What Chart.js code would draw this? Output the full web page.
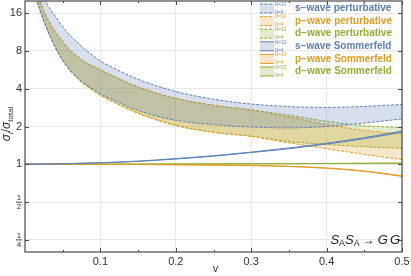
<!DOCTYPE html>
<html>
<head>
<meta charset="utf-8">
<script src="https://cdn.jsdelivr.net/npm/chart.js@4"></script>
<style>
  html, body { margin: 0; padding: 0; background: #fff; }
</style>
</head>
<body>
<canvas id="chart" width="411" height="276"></canvas>
<script>
// velocity grid for the perturbative curves
const vPert = [0.01, 0.015, 0.02, 0.025, 0.03, 0.04, 0.05, 0.06, 0.07, 0.08, 0.1, 0.12, 0.15, 0.2, 0.25, 0.3, 0.35, 0.4, 0.45, 0.5];
const sPertN13 = [50, 34, 26, 21.5, 18.5, 15.2, 12.5, 10.6, 9.3, 8.2, 6.65, 5.75, 4.75, 3.8, 3.3, 3.02, 2.88, 2.84, 2.89, 3.0];
const sPertN4 = [32, 21, 16.8, 13.8, 11.6, 8.6, 6.75, 5.6, 4.85, 4.35, 3.65, 3.2, 2.68, 2.24, 2.07, 1.98, 1.95, 2.0, 2.13, 2.3];
const pPertN13 = [38, 26, 20, 16.5, 14.4, 11.4, 9.5, 8.1, 7.2, 6.5, 5.65, 4.95, 4.12, 3.35, 2.95, 2.7, 2.38, 2.07, 1.86, 1.74];
const pPertN4 = [32, 21, 16.8, 13.8, 11.6, 8.55, 6.7, 5.55, 4.8, 4.28, 3.55, 3.08, 2.55, 2.04, 1.8, 1.67, 1.48, 1.33, 1.2, 1.09];
const dPertN13 = [38, 26, 20, 16.5, 14.4, 11.4, 9.5, 8.1, 7.2, 6.5, 5.65, 4.95, 4.12, 3.35, 2.95, 2.71, 2.46, 2.2, 2.03, 1.96];
const dPertN4 = [32, 21, 16.8, 13.8, 11.6, 8.55, 6.7, 5.55, 4.8, 4.28, 3.55, 3.08, 2.55, 2.04, 1.8, 1.67, 1.52, 1.44, 1.38, 1.34];

// velocity grid for the Sommerfeld curves
const vSomm = [0, 0.05, 0.1, 0.15, 0.2, 0.25, 0.3, 0.35, 0.4, 0.45, 0.5];
const sSommN13 = [1.0, 1.01, 1.03, 1.06, 1.11, 1.17, 1.25, 1.35, 1.47, 1.63, 1.84];
const sSommN4 = [1.0, 1.01, 1.025, 1.055, 1.1, 1.16, 1.24, 1.33, 1.45, 1.6, 1.8];
const pSommN13 = [1.0, 1.0, 0.999, 0.997, 0.993, 0.988, 0.98, 0.965, 0.935, 0.885, 0.81];
const pSommN4 = [1.0, 1.0, 0.998, 0.995, 0.99, 0.984, 0.975, 0.96, 0.928, 0.878, 0.8];
const dSommN13 = [1.0, 1.0, 1.002, 1.004, 1.006, 1.008, 1.01, 1.013, 1.016, 1.019, 1.022];
const dSommN4 = [1.0, 1.0, 1.001, 1.003, 1.005, 1.007, 1.009, 1.011, 1.014, 1.017, 1.02];

const xTickValues = [0.1, 0.2, 0.3, 0.4, 0.5];
const xTickLabels = ["0.1", "0.2", "0.3", "0.4", "0.5"];
const xMinorTicks = [0.05, 0.15, 0.25, 0.35, 0.45];
const yTickValues = [0.25, 0.5, 1, 2, 4, 8, 16];
const yTickLabels = ["1/4", "1/2", "1", "2", "4", "8", "16"];

const legendLabels = [
	"s\u2212wave perturbative",
	"p\u2212wave perturbative",
	"d\u2212wave perturbative",
	"s\u2212wave Sommerfeld",
	"p\u2212wave Sommerfeld",
	"d\u2212wave Sommerfeld",
];

const BLUE = "#5e81b5";
const ORANGE = "#e19c24";
const GREEN = "#8fb032";
const FONT = "'Liberation Sans', Arial, sans-serif";

const toPoints = (xs, ys) => xs.map((x, i) => ({ x: x, y: ys[i] }));
const fade = (hex, a) => {
	const n = parseInt(hex.slice(1), 16);
	return `rgba(${(n >> 16) & 255}, ${(n >> 8) & 255}, ${n & 255}, ${a})`;
};

function band(xs, upper, lower, color, dash) {
	const common = {
		borderColor: color,
		borderWidth: 1,
		borderDash: dash,
		pointRadius: 0,
		cubicInterpolationMode: "monotone",
	};
	return [
		{ ...common, data: toPoints(xs, upper), backgroundColor: fade(color, 0.25), fill: "+1" },
		{ ...common, data: toPoints(xs, lower), fill: false },
	];
}

const datasets = [
	...band(vSomm, sSommN13, sSommN4, BLUE, []),
	...band(vSomm, pSommN13, pSommN4, ORANGE, []),
	...band(vSomm, dSommN13, dSommN4, GREEN, []),
	...band(vPert, sPertN13, sPertN4, BLUE, [3, 1.5]),
	...band(vPert, pPertN13, pPertN4, ORANGE, [3, 1.5]),
	...band(vPert, dPertN13, dPertN4, GREEN, [3, 1.5]),
];

// draws several font runs one after another, returns total width
function runs(ctx, parts, x, y, measureOnly) {
	let w = 0;
	parts.forEach((p) => {
		ctx.font = p.font;
		if (!measureOnly) ctx.fillText(p.text, x + w, y + (p.dy || 0));
		w += ctx.measureText(p.text).width + (p.gap || 0);
	});
	return w;
}

const decorations = {
	id: "decorations",
	afterDraw(chart) {
		const { ctx, chartArea: a } = chart;
		const x = chart.scales.x;
		const y = chart.scales.y;
		ctx.save();

		// frame
		ctx.strokeStyle = "#4a4a4a";
		ctx.lineWidth = 1.2;
		ctx.strokeRect(a.left, a.top, a.right - a.left, a.bottom - a.top);

		// inward ticks
		ctx.lineWidth = 1;
		ctx.beginPath();
		xTickValues.forEach((v) => {
			const px = Math.round(x.getPixelForValue(v)) + 0.5;
			ctx.moveTo(px, a.bottom); ctx.lineTo(px, a.bottom - 4);
			ctx.moveTo(px, a.top); ctx.lineTo(px, a.top + 4);
		});
		xMinorTicks.forEach((v) => {
			const px = Math.round(x.getPixelForValue(v)) + 0.5;
			ctx.moveTo(px, a.bottom); ctx.lineTo(px, a.bottom - 2);
			ctx.moveTo(px, a.top); ctx.lineTo(px, a.top + 2);
		});
		yTickValues.forEach((v) => {
			const py = Math.round(y.getPixelForValue(v)) + 0.5;
			ctx.moveTo(a.left, py); ctx.lineTo(a.left + 4, py);
			ctx.moveTo(a.right, py); ctx.lineTo(a.right - 4, py);
		});
		ctx.stroke();

		// tick labels
		ctx.fillStyle = "#333";
		ctx.font = `11px ${FONT}`;
		ctx.textAlign = "center";
		ctx.textBaseline = "middle";
		xTickValues.forEach((v, i) => {
			ctx.fillText(xTickLabels[i], x.getPixelForValue(v), a.bottom + 10);
		});
		yTickValues.forEach((v, i) => {
			const py = y.getPixelForValue(v);
			const label = yTickLabels[i];
			if (label.includes("/")) {
				const [num, den] = label.split("/");
				ctx.font = `8px ${FONT}`;
				ctx.textAlign = "center";
				ctx.fillText(num, 19, py - 4.5);
				ctx.fillText(den, 19, py + 5);
				ctx.fillRect(16, py - 0.4, 6, 0.9);
			} else {
				ctx.font = `11px ${FONT}`;
				ctx.textAlign = "right";
				ctx.fillText(label, 22, py);
			}
		});

		// axis titles
		ctx.textAlign = "center";
		ctx.font = `11px ${FONT}`;
		ctx.fillText("v", (a.left + a.right) / 2 + 2, a.bottom + 17);

		ctx.textAlign = "left";
		ctx.textBaseline = "alphabetic";
		const yTitle = [
			{ text: "\u03c3", font: `italic 12px ${FONT}` },
			{ text: "i", font: `italic 8px ${FONT}`, dy: 3 },
			{ text: "/", font: `12px ${FONT}` },
			{ text: "\u03c3", font: `italic 12px ${FONT}` },
			{ text: "total", font: `8px ${FONT}`, dy: 3 },
		];
		const tw = runs(ctx, yTitle, 0, 0, true);
		ctx.save();
		ctx.translate(10, 124);
		ctx.rotate(-Math.PI / 2);
		runs(ctx, yTitle, -tw / 2, 0, false);
		ctx.restore();

		// process label
		const proc = [
			{ text: "S", font: `italic 13px ${FONT}` },
			{ text: "A", font: `9px ${FONT}`, dy: 2 },
			{ text: "S", font: `italic 13px ${FONT}` },
			{ text: "A", font: `9px ${FONT}`, dy: 2, gap: 3 },
			{ text: "\u2192", font: `12px ${FONT}`, gap: 3 },
			{ text: "G", font: `italic 13px ${FONT}`, gap: 2 },
			{ text: "G", font: `italic 13px ${FONT}` },
		];
		ctx.fillStyle = "#222";
		const pw = runs(ctx, proc, 0, 0, true);
		runs(ctx, proc, a.right - 2 - pw, a.bottom - 8, false);

		// legend
		const colors = [BLUE, ORANGE, GREEN, BLUE, ORANGE, GREEN];
		legendLabels.forEach((label, i) => {
			const cy = 8.5 + i * 12.6;
			const c = colors[i];
			const sx = 260, ex = 274;
			ctx.fillStyle = fade(c, 0.25);
			ctx.fillRect(sx, cy - 4.5, ex - sx, 9);
			ctx.strokeStyle = c;
			ctx.lineWidth = 1;
			ctx.setLineDash(i < 3 ? [3, 1.5] : []);
			ctx.beginPath();
			ctx.moveTo(sx, cy - 4.5); ctx.lineTo(ex, cy - 4.5);
			ctx.moveTo(sx, cy + 4.5); ctx.lineTo(ex, cy + 4.5);
			ctx.stroke();
			ctx.setLineDash([]);
			ctx.fillStyle = c;
			ctx.font = `4.5px ${FONT}`;
			ctx.textBaseline = "middle";
			ctx.textAlign = "left";
			ctx.fillText("N=13", ex + 1, cy - 4);
			ctx.fillText("N=4", ex + 1, cy + 4);
			ctx.font = `bold 10px ${FONT}`;
			ctx.fillText(label, 295, cy);
		});

		ctx.restore();
	},
};

const chart = new Chart(document.getElementById("chart"), {
	type: "line",
	data: { datasets: datasets },
	plugins: [decorations],
	options: {
		responsive: false,
		animation: false,
		devicePixelRatio: 1,
		layout: { padding: { left: 25, top: 1, right: 9, bottom: 24 } },
		plugins: {
			legend: { display: false },
			tooltip: { enabled: false },
		},
		scales: {
			x: {
				type: "linear",
				min: 0,
				max: 0.5,
				afterBuildTicks: (scale) => {
					scale.ticks = xTickValues.map((v) => ({ value: v }));
				},
				ticks: { display: false },
				grid: { color: "#e8e8e8", drawTicks: false },
				border: { display: false },
			},
			y: {
				type: "logarithmic",
				min: 0.2,
				max: 20,
				afterBuildTicks: (scale) => {
					scale.ticks = yTickValues.map((v) => ({ value: v }));
				},
				ticks: { display: false },
				grid: { color: "#e8e8e8", drawTicks: false },
				border: { display: false },
			},
		},
	},
});
</script>
</body>
</html>
